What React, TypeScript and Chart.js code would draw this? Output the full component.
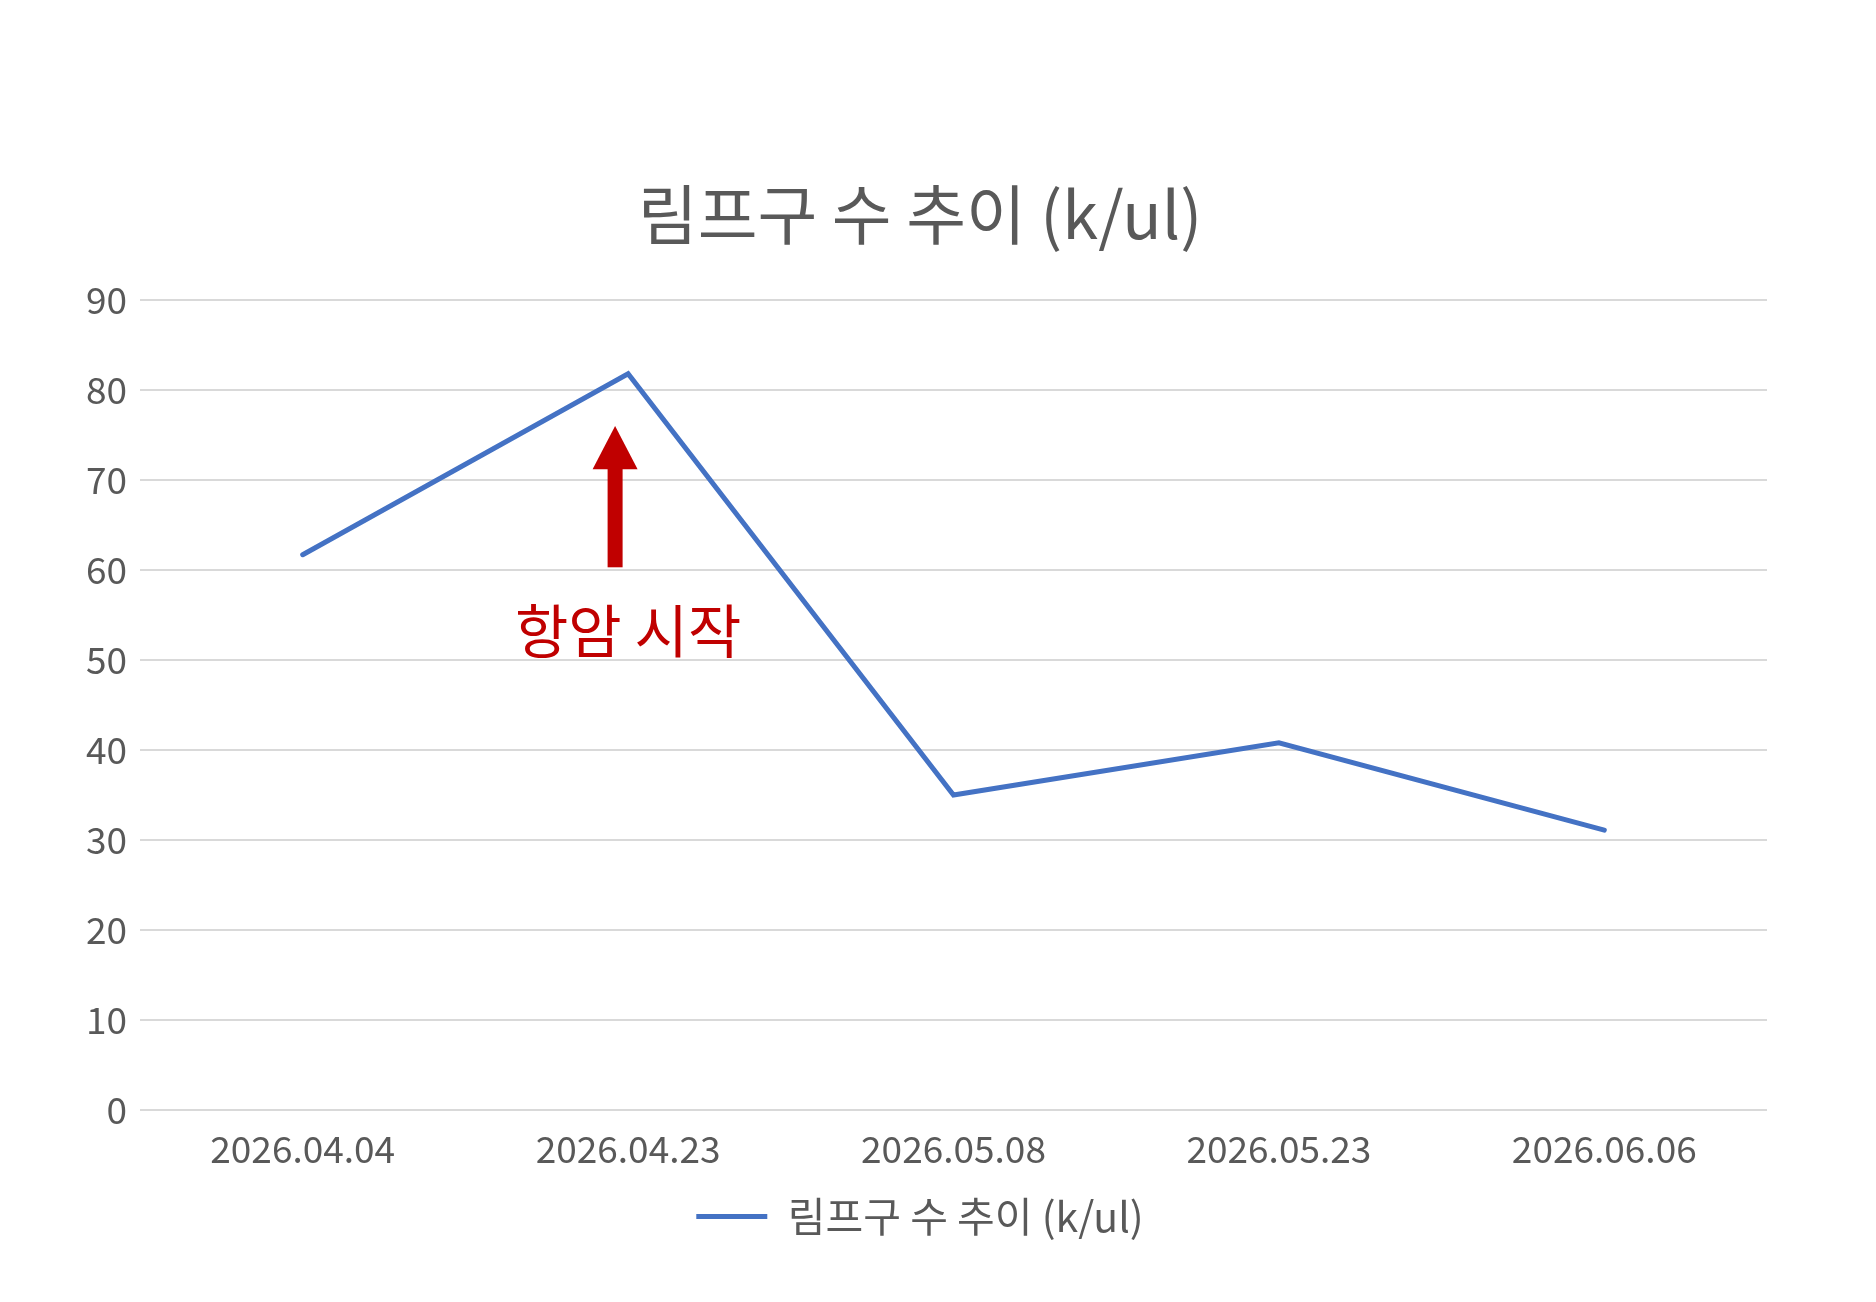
import { useEffect, useRef } from "react"
import { Chart, registerables, Plugin } from "chart.js"

Chart.register(...registerables)

const title = "림프구 수 추이 (k/ul)"
const categories = ["2026.04.04", "2026.04.23", "2026.05.08", "2026.05.23", "2026.06.06"]
const lymphocytes = [61.7, 81.8, 35.0, 40.8, 31.1]
const yMax = 90
const yStep = 10

// arrow + note pointing at the second date
const note = { index: 1, label: "항암 시작", tip: 76, headBase: 71.2, tail: 60.3, textAt: 53.2 }

const FONT = "'Noto Sans CJK KR', 'Noto Sans', sans-serif"
const GREY = "#595959"

const notePlugin: Plugin = {
  id: "note",
  afterDatasetsDraw(chart) {
    const { ctx, scales } = chart
    const x = scales.x.getPixelForValue(note.index) - 13
    const tip = scales.y.getPixelForValue(note.tip)
    const base = scales.y.getPixelForValue(note.headBase)
    const tail = scales.y.getPixelForValue(note.tail)
    ctx.save()
    ctx.fillStyle = "#C00000"
    ctx.fillRect(x - 7.5, base - 1, 15, tail - base + 1)
    ctx.beginPath()
    ctx.moveTo(x, tip)
    ctx.lineTo(x + 22.5, base)
    ctx.lineTo(x - 22.5, base)
    ctx.closePath()
    ctx.fill()
    ctx.font = `58px ${FONT}`
    ctx.textAlign = "center"
    ctx.textBaseline = "middle"
    ctx.fillText(note.label, scales.x.getPixelForValue(note.index), scales.y.getPixelForValue(note.textAt))
    ctx.restore()
  },
}

export default function App() {
  const chartRef = useRef<HTMLCanvasElement>(null)
  const chartInstance = useRef<Chart | null>(null)

  useEffect(() => {
    if (!chartRef.current) return
    if (chartInstance.current) chartInstance.current.destroy()

    chartInstance.current = new Chart(chartRef.current, {
      type: "line",
      data: {
        labels: categories,
        datasets: [
          {
            label: title,
            data: lymphocytes,
            borderColor: "#4472C4",
            backgroundColor: "#4472C4",
            borderWidth: 5,
            borderCapStyle: "round",
            borderJoinStyle: "miter",
            pointRadius: 0,
            tension: 0,
          },
        ],
      },
      plugins: [notePlugin],
      options: {
        responsive: false,
        devicePixelRatio: 1,
        animation: false,
        layout: { padding: { top: 0, right: 109, bottom: 55, left: 73 } },
        plugins: {
          title: {
            display: true,
            text: title,
            color: GREY,
            font: { family: FONT, size: 65, weight: "normal" },
            padding: { top: 175, bottom: 47 },
          },
          legend: {
            position: "bottom",
            labels: {
              usePointStyle: true,
              pointStyle: "line",
              pointStyleWidth: 71,
              color: GREY,
              font: { family: FONT, size: 41 },
              padding: 10,
            },
          },
          tooltip: { enabled: false },
        },
        scales: {
          x: {
            offset: true,
            grid: { display: false },
            border: { display: false },
            ticks: { color: GREY, font: { family: FONT, size: 37 }, padding: 9 },
            afterFit: (s) => {
              s.height = 76
            },
          },
          y: {
            min: 0,
            max: yMax,
            grid: { color: "#D9D9D9", lineWidth: 2, drawTicks: false },
            border: { display: false },
            ticks: { stepSize: yStep, color: GREY, font: { family: FONT, size: 37 }, padding: 13 },
            afterFit: (s) => {
              s.width = 67
            },
          },
        },
      },
    })

    return () => {
      if (chartInstance.current) {
        chartInstance.current.destroy()
        chartInstance.current = null
      }
    }
  }, [])

  return (
    <div style={{ position: "absolute", left: 0, top: 0, background: "#fff" }}>
      <canvas ref={chartRef} width={1876} height={1302} />
    </div>
  )
}
